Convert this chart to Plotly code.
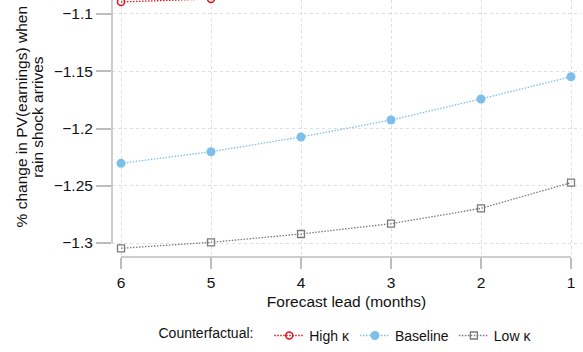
import plotly.graph_objects as go

# ---- data ----
lead_months = [6, 5, 4, 3, 2, 1]
high_kappa = [-1.0895, -1.0869, -1.083, -1.078, -1.071, -1.062]
baseline = [-1.2304, -1.2203, -1.2074, -1.1926, -1.1742, -1.1548]
low_kappa = [-1.3046, -1.2994, -1.2921, -1.2831, -1.2697, -1.2473]
y_ticks = [-1.3, -1.25, -1.2, -1.15, -1.1]
y_tick_labels = ["\u22121.3", "\u22121.25", "\u22121.2", "\u22121.15", "\u22121.1"]
x_range = [6.1, 0.889]
y_range = [-1.3122, -1.0878]

FONT = "Liberation Sans, Arial, Helvetica, sans-serif"
RED = "#e0141e"
BLUE = "#7dbfea"
GRAY = "#7a7a7a"
AXIS = "#bdbdbd"
GRID = "#dedede"
DOT = "1.5px,1.5px"

fig = go.Figure()
fig.add_trace(go.Scatter(
    x=lead_months, y=high_kappa, name="High \u03ba", mode="lines+markers",
    line=dict(color=RED, dash=DOT, width=1.3),
    marker=dict(symbol="circle-open", size=7, color=RED, line=dict(width=1.5)),
))
fig.add_trace(go.Scatter(
    x=lead_months, y=baseline, name="Baseline", mode="lines+markers",
    line=dict(color=BLUE, dash=DOT, width=1.3),
    marker=dict(symbol="circle", size=9, color=BLUE),
))
fig.add_trace(go.Scatter(
    x=lead_months, y=low_kappa, name="Low \u03ba", mode="lines+markers",
    line=dict(color=GRAY, dash=DOT, width=1.3),
    marker=dict(symbol="square-open", size=7, color=GRAY, line=dict(width=1.3)),
))

fig.update_layout(
    width=583, height=352,
    margin=dict(l=112, r=2, t=0, b=95),
    paper_bgcolor="white", plot_bgcolor="white",
    font=dict(family=FONT, size=15.5, color="#111"),
    showlegend=True,
    legend=dict(
        orientation="h", x=0.5, xanchor="center", y=-0.307, yanchor="middle",
        title=dict(text="Counterfactual:  ", side="left", font=dict(size=14)),
        font=dict(size=14), itemwidth=30,
    ),
    xaxis=dict(
        range=x_range, tickvals=lead_months, ticktext=[str(v) for v in lead_months],
        showline=False, zeroline=False,
        showgrid=True, gridcolor=GRID, griddash="dot", gridwidth=1,
        ticks="outside", ticklen=11, tickwidth=1.5, tickcolor=AXIS,
        tickfont=dict(size=15.5),
        title=dict(text="Forecast lead (months)", font=dict(size=15.5), standoff=6),
    ),
    yaxis=dict(
        range=y_range, tickvals=y_ticks, ticktext=y_tick_labels,
        showline=False, zeroline=False,
        showgrid=True, gridcolor=GRID, griddash="dot", gridwidth=1,
        ticks="outside", ticklen=15, tickwidth=1.5, tickcolor=AXIS,
        tickfont=dict(size=15.5),
    ),
    shapes=[
        dict(type="line", xref="x", yref="paper", x0=lead_months[0], x1=lead_months[-1],
             y0=0, y1=0, line=dict(color=AXIS, width=1.5)),
        dict(type="line", xref="paper", yref="y", x0=0, x1=0,
             y0=y_ticks[0], y1=y_range[1], line=dict(color=AXIS, width=1.5)),
    ],
    annotations=[
        dict(text="% change in PV(earnings) when", xref="paper", yref="paper",
             x=-0.193, y=0.545, xanchor="center", yanchor="middle", textangle=-90,
             showarrow=False, font=dict(size=15.5)),
        dict(text="rain shock arrives", xref="paper", yref="paper",
             x=-0.158, y=0.545, xanchor="center", yanchor="middle", textangle=-90,
             showarrow=False, font=dict(size=15.5)),
    ],
)

fig.write_html("out.html", config={"displayModeBar": False},
               post_script="document.body.style.margin='0';")
